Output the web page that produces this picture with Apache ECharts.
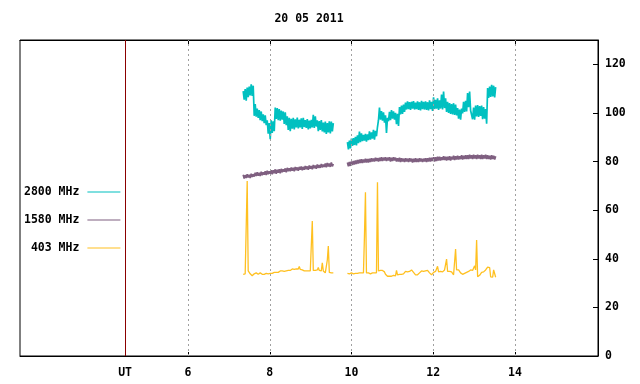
<!DOCTYPE html>
<html><head><meta charset="utf-8">
<script src="https://cdn.jsdelivr.net/npm/echarts@6/dist/echarts.min.js"></script>
<style>html,body{margin:0;padding:0;background:#fff}#c{width:640px;height:384px}</style>
</head><body><div id="c"></div>
<script>
// ---- data (hours UT, sfu) ----
const titleText = '20 05 2011';
const seriesNames = ['2800 MHz', '1580 MHz', '403 MHz'];
const xTickValues = [6, 8, 10, 12, 14];
const utPosition = 4.46;
const yTickValues = [0, 20, 40, 60, 80, 100, 120];
const sampleStep = 0.0245;      // cadence (h)
const seg1Start = 7.35;         // first block start (h)
const seg2Start = 9.90;         // second block start (h)

const f2800a = [109.0,105.5,109.8,105.0,110.4,106.5,110.8,107.2,111.8,107.0,
111.2,98.8,103.6,98.5,101.8,98.0,101.2,97.0,100.6,96.6,
99.4,95.8,99.0,95.0,97.0,91.5,95.8,89.2,97.0,91.8,
96.5,92.5,102.2,97.5,102.0,97.0,101.6,96.8,101.0,97.2,
100.6,95.5,100.2,95.0,98.6,93.0,98.0,92.5,97.6,93.5,
98.0,93.2,97.4,94.0,98.1,93.6,97.2,94.0,97.8,93.4,
98.0,94.2,97.0,93.8,97.5,93.2,96.8,93.6,97.2,94.0,
99.2,93.8,98.6,94.4,97.0,92.5,96.6,93.0,97.1,92.4,
96.0,92.0,96.4,91.4,95.8,92.0,96.5,91.6,96.4,92.4,95.8];
const f2800b = [88.0,85.0,88.6,85.4,89.4,86.4,89.6,86.8,90.2,86.6,
90.8,87.6,92.3,88.0,91.6,88.4,91.0,88.6,91.4,88.2,
91.2,88.8,92.4,89.0,92.0,89.4,93.0,89.0,92.6,90.4,
94.2,97.0,102.2,97.2,100.8,96.8,100.2,96.0,99.0,91.8,
98.0,96.6,100.4,97.0,101.2,97.6,100.6,97.2,100.0,95.4,
99.6,94.6,102.4,99.4,103.0,99.6,103.4,100.4,104.2,101.4,
104.8,101.6,104.4,101.2,104.6,101.8,104.9,101.4,104.2,101.6,
104.8,101.2,104.4,101.0,105.0,101.6,104.6,101.4,104.8,101.2,
104.4,101.0,105.2,101.6,104.6,100.8,106.4,101.6,105.4,101.8,
106.0,101.2,105.2,101.8,107.6,101.4,108.8,102.0,106.0,100.4,
104.6,100.0,104.0,99.6,103.6,99.4,104.0,99.2,103.4,99.0,
102.0,97.6,101.4,97.2,101.8,99.8,104.6,100.4,105.0,100.6,
108.2,102.4,108.8,101.0,101.8,97.4,102.2,97.2,103.0,98.6,
103.2,98.4,102.8,98.8,103.0,97.4,102.4,97.6,101.6,95.6,
110.2,106.2,110.8,106.6,111.6,106.8,111.2,106.4,110.6];

const f1580a = [74.6,73.0,74.4,73.2,74.8,73.4,74.6,73.2,75.0,73.6,
74.8,73.8,75.4,74.0,75.6,74.2,75.4,74.0,75.8,74.4,
75.6,74.6,76.0,74.4,76.2,74.8,76.0,75.0,76.4,74.8,
76.4,75.2,76.8,75.0,76.6,75.4,76.8,75.2,77.0,75.6,
76.8,75.8,77.2,75.6,77.4,76.0,77.2,76.0,77.6,76.2,
77.4,76.0,77.8,76.4,77.6,76.2,77.8,76.6,78.0,76.4,
77.8,76.6,78.2,76.8,78.0,76.6,78.4,77.0,78.2,76.8,
78.6,77.2,78.4,77.0,78.8,77.4,78.6,77.4,79.0,77.6,
78.8,77.8,79.2,77.6,79.4,78.0,79.2,77.8,79.6,78.0,79.0];
const f1580b = [79.6,78.0,79.8,78.2,80.0,78.6,80.2,78.8,80.4,79.0,
80.6,79.2,80.8,79.4,81.0,79.4,80.8,79.6,81.2,79.6,
81.0,79.6,81.2,79.8,81.4,80.0,81.2,80.0,81.6,80.2,
81.4,80.0,81.6,80.2,81.8,80.2,81.6,80.4,81.8,80.2,
81.6,80.4,81.8,80.0,81.6,80.2,81.8,80.4,81.6,80.0,
81.4,80.0,81.6,79.8,81.4,80.0,81.2,79.8,81.4,80.0,
81.2,79.8,81.4,80.0,81.2,79.6,81.2,79.8,81.4,79.8,
81.2,79.8,81.4,80.0,81.2,79.8,81.2,80.0,81.4,79.8,
81.4,80.0,81.6,80.0,81.6,80.2,81.8,80.0,81.8,80.2,
82.0,80.4,82.0,80.4,81.8,80.6,82.2,80.6,82.0,80.4,
82.0,80.6,82.2,80.4,82.0,80.8,82.4,80.6,82.2,80.8,
82.4,80.8,82.2,81.0,82.6,80.8,82.4,81.0,82.6,81.0,
82.6,81.0,82.8,81.2,82.6,81.0,82.8,81.2,82.6,81.0,
82.8,81.2,82.6,81.0,82.8,81.0,82.6,81.2,82.8,81.0,
82.6,81.0,82.4,80.8,82.6,81.0,82.4,80.8,82.2];

const f403a = [33.6,33.4,33.8,34.2,72.0,35.0,34.4,33.8,33.2,33.0,
33.4,33.8,34.0,34.2,33.8,33.6,34.0,34.2,33.8,33.6,
33.8,33.6,33.8,34.0,33.6,33.8,34.0,34.0,34.2,34.0,
34.2,34.4,34.2,34.4,34.6,34.4,34.8,35.0,34.8,35.0,
35.2,34.8,35.2,35.0,35.4,35.2,35.6,35.2,35.4,35.8,
35.4,35.6,36.0,35.8,36.4,35.8,36.8,35.6,36.2,35.4,
35.2,35.0,35.2,35.0,35.2,35.0,35.2,35.0,35.2,55.5,
35.2,35.0,35.2,35.0,35.4,36.4,35.2,35.0,35.0,38.3,
35.0,34.6,34.2,34.4,39.5,45.2,34.4,34.0,34.2,34.0,34.2];
const f403b = [34.0,34.2,33.8,34.0,34.2,34.0,33.8,34.2,34.0,34.2,
34.0,33.8,34.2,35.0,34.2,34.0,34.2,49.3,67.4,34.2,
34.0,34.2,34.0,33.8,34.0,34.2,34.0,34.2,34.0,34.2,
71.5,35.0,34.8,35.2,35.0,35.2,35.0,34.6,33.6,33.0,
32.8,33.0,32.8,33.0,32.8,33.0,33.2,32.8,33.0,35.2,
33.4,33.2,33.6,33.8,33.6,33.4,33.8,34.2,34.8,35.0,
34.6,35.2,34.8,35.2,35.4,34.8,34.4,33.8,33.4,33.6,
33.4,33.8,34.2,34.8,35.0,35.4,34.8,35.2,35.0,34.6,
35.2,34.8,34.2,33.6,33.4,33.8,34.4,35.0,34.8,35.2,
36.9,34.6,34.2,34.8,34.4,34.6,35.2,35.4,35.0,39.9,
34.8,34.4,34.8,34.2,34.6,33.8,33.4,33.6,44.0,35.4,
35.2,35.4,35.0,34.2,33.8,33.6,33.8,34.0,33.8,34.4,
34.6,34.8,35.2,35.4,35.6,35.2,35.8,37.1,35.4,47.7,
32.6,32.4,33.2,34.0,34.4,34.2,34.6,34.0,35.4,36.2,
36.6,36.8,36.4,32.6,32.2,32.4,35.4,34.8,32.4];

const colors = ['#00c0c0', '#7f5f80', '#ffc020'];
const widths = [1.7, 1.7, 1.3];
// ------------------------------

const FONT = '"DejaVu Sans Mono", "Liberation Mono", monospace';
function pairs(start, vals) { return vals.map((v, i) => [start + i * sampleStep, v]); }

const blocks = [[f2800a, f2800b], [f1580a, f1580b], [f403a, f403b]];
const series = [];
blocks.forEach((b, k) => {
  [[seg1Start, b[0]], [seg2Start, b[1]]].forEach(([s, vals]) => {
    series.push({
      name: seriesNames[k], type: 'line', data: pairs(s, vals),
      showSymbol: false, symbol: 'none', color: colors[k],
      lineStyle: { width: widths[k], color: colors[k] }, itemStyle: { color: colors[k] },
      animation: false, silent: true, z: 3
    });
  });
});
series.unshift({
  type: 'line', data: [], silent: true, z: 1, animation: false,
  markLine: {
    silent: true, symbol: 'none', animation: false, label: { show: false },
    data: xTickValues.map(v => ({ xAxis: v, lineStyle: { type: [2, 3], color: '#a0a0a0', width: 1 } }))
      .concat([{ xAxis: utPosition, lineStyle: { type: 'solid', color: '#8b0000', width: 1 } }])
  }
});

const chart = echarts.init(document.getElementById('c'), null, { renderer: 'canvas' });
chart.setOption({
  animation: false,
  backgroundColor: '#ffffff',
  title: { text: titleText, left: 309, textAlign: 'center', top: 13, padding: 0,
    textStyle: { fontFamily: FONT, fontSize: 11.5, fontWeight: 'bold', color: '#000' } },
  legend: {
    data: seriesNames, orient: 'vertical', left: 24, top: 185, align: 'right', padding: 0,
    icon: 'rect', itemWidth: 33, itemHeight: 1, itemGap: 14, selectedMode: false,
    formatter: n => n.padStart(8, '\u00a0'),
    textStyle: { fontFamily: FONT, fontSize: 11.5, fontWeight: 'bold', color: '#000', lineHeight: 14, padding: [0, 3, 0, 0] }
  },
  grid: { left: 20, right: 42, top: 40, bottom: 28, show: true, borderColor: '#000', borderWidth: 1, backgroundColor: 'transparent' },
  xAxis: [{
    type: 'value', min: 1.89, max: 16.03, position: 'bottom',
    axisLine: { show: true, lineStyle: { color: '#000' } },
    axisTick: { show: true, inside: true, length: 4, customValues: xTickValues, lineStyle: { color: '#000' } },
    axisLabel: { show: true, margin: 11, customValues: [utPosition].concat(xTickValues),
      formatter: v => (Math.abs(v - utPosition) < 1e-6 ? 'UT' : String(v)),
      fontFamily: FONT, fontSize: 11.5, fontWeight: 'bold', color: '#000' },
    splitLine: { show: false }
  }, {
    type: 'value', min: 1.89, max: 16.03, position: 'top',
    axisLine: { show: true, lineStyle: { color: '#000' } },
    axisTick: { show: true, inside: true, length: 4, customValues: xTickValues, lineStyle: { color: '#000' } },
    axisLabel: { show: false }, splitLine: { show: false }
  }],
  yAxis: {
    type: 'value', min: 0, max: 130, position: 'right',
    axisLine: { show: true, lineStyle: { color: '#000' } },
    axisTick: { show: true, inside: true, length: 5, customValues: yTickValues, lineStyle: { color: '#000' } },
    axisLabel: { show: true, margin: 7, customValues: yTickValues,
      fontFamily: FONT, fontSize: 11.5, fontWeight: 'bold', color: '#000' },
    splitLine: { show: false }
  },
  series: series
});
</script></body></html>
